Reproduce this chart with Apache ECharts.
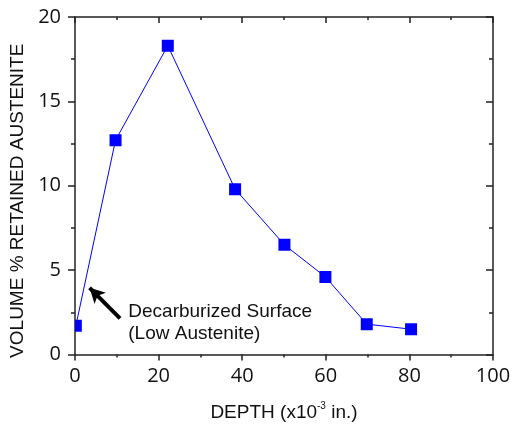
<!DOCTYPE html>
<html>
<head>
<meta charset="utf-8">
<style>html,body{margin:0;padding:0;background:#fff;}#c{width:514px;height:427px;}</style>
<script src="https://cdn.jsdelivr.net/npm/echarts@6/dist/echarts.min.js"></script>
</head>
<body>
<div id="c"></div>
<script>
const depth = [0.2, 9.7, 22.2, 38.3, 50.1, 59.9, 69.8, 80.4];
const retained = [1.7, 12.7, 18.3, 9.8, 6.5, 4.6, 1.8, 1.5];
const xTicks = [0, 20, 40, 60, 80, 100];
const yTicks = [0, 5, 10, 15, 20];
const arrowFrom = [10.77, 2.14];
const arrowTo = [3.5, 3.95];
const noteAt = [12.75, 1.86];
const noteText = 'Decarburized Surface\n(Low Austenite)';

const pts = depth.map((d, i) => [d, retained[i]]);
const axisColor = '#222';
const lineSty = { color: axisColor, width: 1.5 };
const labelFont = { fontFamily: 'Open Sans', fontSize: 20, color: '#111' };

function xAx(pos, inside, labels) {
  return {
    type: 'value', position: pos, min: xTicks[0], max: xTicks[xTicks.length - 1], interval: 20,
    axisLine: { show: true, onZero: false, lineStyle: lineSty },
    axisTick: { show: true, inside: inside, length: 6, lineStyle: lineSty },
    minorTick: { show: true, splitNumber: 2, length: 3, lineStyle: lineSty },
    splitLine: { show: false },
    axisLabel: Object.assign({ show: labels, margin: 12 }, labelFont)
  };
}
function yAx(pos, inside, labels) {
  return {
    type: 'value', position: pos, min: yTicks[0], max: yTicks[yTicks.length - 1], interval: 5,
    axisLine: { show: true, onZero: false, lineStyle: lineSty },
    axisTick: { show: true, inside: inside, length: 7, lineStyle: lineSty },
    minorTick: { show: true, splitNumber: 2, length: 4, lineStyle: lineSty },
    splitLine: { show: false },
    axisLabel: Object.assign({ show: labels, margin: 14 }, labelFont)
  };
}

const xb = xAx('bottom', false, true);
xb.name = '{a|DEPTH (x10}{s|-3}{a| in.)}';
xb.nameLocation = 'middle';
xb.nameGap = 47;
xb.nameTextStyle = {
  rich: {
    a: { fontFamily: 'Liberation Sans', fontSize: 19, color: '#111', lineHeight: 22 },
    s: { fontFamily: 'Liberation Sans', fontSize: 10, color: '#111', verticalAlign: 'top', lineHeight: 10 }
  }
};
const yl = yAx('left', false, true);
yl.name = 'VOLUME % RETAINED AUSTENITE';
yl.nameLocation = 'middle';
yl.nameGap = 45;
yl.nameTextStyle = { fontFamily: 'Liberation Sans', fontSize: 19, color: '#111', padding: [0, 30, 0, 0] };

const chart = echarts.init(document.getElementById('c'), null, { renderer: 'canvas' });
chart.setOption({
  animation: false,
  backgroundColor: '#fff',
  grid: { left: 75, right: 21, top: 17, bottom: 70, containLabel: false },
  xAxis: [xb, xAx('top', true, false)],
  yAxis: [yl, yAx('right', true, false)],
  series: [
    {
      type: 'line', data: pts, symbol: 'none',
      lineStyle: { color: '#0000ff', width: 1 },
      markLine: {
        silent: true, symbol: ['none', 'arrow'], symbolSize: [12, 15],
        label: { show: false },
        lineStyle: { color: '#000', width: 4, type: 'solid' },
        data: [[{ coord: arrowFrom }, { coord: arrowTo }]]
      },
      markPoint: {
        silent: true,
        data: [{
          coord: noteAt, symbol: 'circle', symbolSize: 0,
          label: {
            show: true, position: 'right', distance: 0, formatter: noteText,
            fontFamily: 'Liberation Sans', fontSize: 19, lineHeight: 22, color: '#111', align: 'left'
          }
        }]
      }
    },
    {
      type: 'custom', data: pts, clip: true,
      renderItem: function (params, api) {
        const p = api.coord([api.value(0), api.value(1)]);
        return { type: 'rect', shape: { x: p[0] - 6, y: p[1] - 6, width: 12, height: 12 }, style: { fill: '#0000ff' } };
      }
    }
  ]
});
</script>
</body>
</html>
